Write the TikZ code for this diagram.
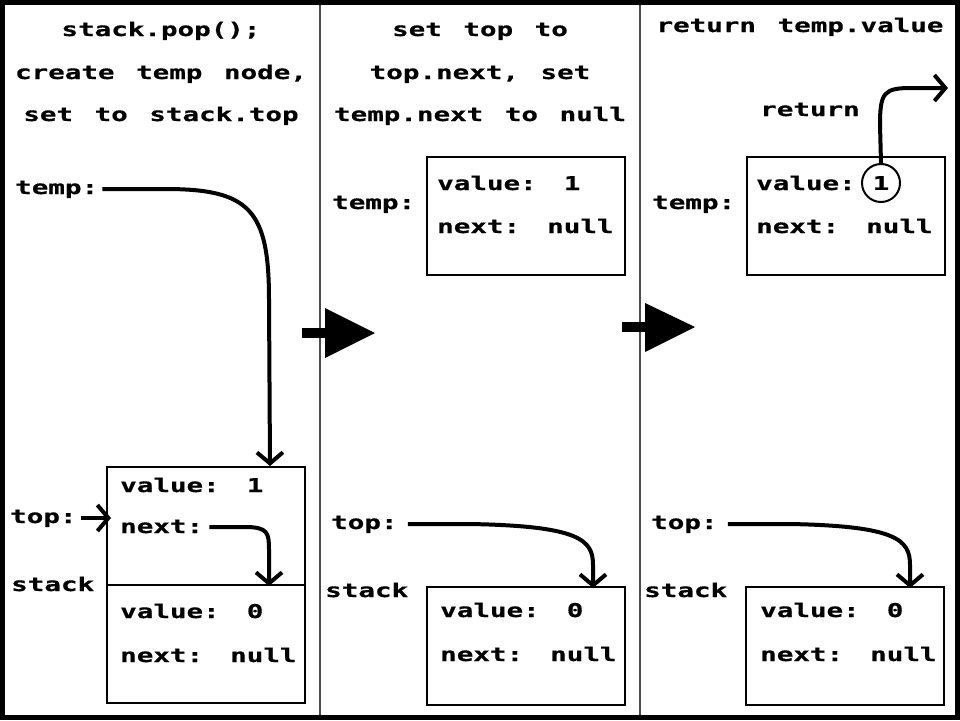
\documentclass[tikz,border=0pt]{standalone}
\usepackage{fontspec}
\usetikzlibrary{arrows.meta}
\newfontfamily\pxfont[FakeStretch=1.45,WordSpace=1.3,FakeBold=0.6]{DejaVu Sans Mono}
\begin{document}
\begin{tikzpicture}[x=1pt,y=-1pt,
  txt/.style={font=\pxfont\bfseries\fontsize{19}{19}\selectfont, inner sep=0pt, anchor=base west},
  ttl/.style={txt, anchor=base},
  cell/.style={draw, line width=2pt, minimum width=198pt, minimum height=118pt, inner sep=0pt, anchor=north west},
  ptr/.style={line width=4pt, -{Straight Barb[length=11pt,width=26pt]}},
  divider/.style={line width=2pt, black!70},
  bigarrow/.style={fill=black}
]
\useasboundingbox (0,0) rectangle (960,720);
\fill[white] (0,0) rectangle (960,720);

% frame and panel dividers
\draw[line width=5pt] (2.5,2.5) rectangle (957.5,717.5);
\draw[divider] (320,5) -- (320,715);
\draw[divider] (640,5) -- (640,715);

% ---------- panel 1 ----------
\node[ttl] (t1a) at (161,36) {stack.pop();};
\node[ttl] (t1b) at (161,79) {create temp node,};
\node[ttl] (t1c) at (161,121) {set to stack.top};

\node[txt] (tmp1) at (15,194) {temp:};
\node[txt] (top1) at (10,523) {top:};
\node[txt] (stk1) at (11,591) {stack};

\node[cell] (n1a) at (106,466) {};
\node[cell] (n1b) at (106,584) {};
\node[txt] (v1a) at (120,492) {value: 1};
\node[txt] (x1a) at (120,533) {next:};
\node[txt] (v1b) at (120,618) {value: 0};
\node[txt] (x1b) at (120,662) {next: null};

\coordinate (e1) at (270,466);
\draw[ptr] (tmp1.east |- 0,189) ++(4,0) -- (165,189)
  .. controls (250,189) and (269,210) .. (269,300) -- (e1);
\coordinate (e2) at (111,518);
\draw[ptr] (top1.east |- 0,518) ++(4,0) -- (e2);
\coordinate (e3) at (269,586);
\draw[ptr] (x1a.east |- 0,527) ++(6,0) -- (245,527)
  .. controls (268,527) and (269,533) .. (269,550) -- (e3);

% step arrow 1 -> 2
\fill[bigarrow] (302,328) rectangle (326,338);
\fill[bigarrow] (325,308) -- (375,333) -- (325,358) -- cycle;

% ---------- panel 2 ----------
\node[ttl] (t2a) at (480,36) {set top to};
\node[ttl] (t2b) at (480,79) {top.next, set};
\node[ttl] (t2c) at (480,121) {temp.next to null};

\node[txt] (tmp2) at (332,209) {temp:};
\node[cell] (n2t) at (426,156) {};
\node[txt] (v2t) at (437,190) {value: 1};
\node[txt] (x2t) at (437,233) {next: null};

\node[txt] (top2) at (331,529) {top:};
\node[txt] (stk2) at (325,597) {stack};
\node[cell] (n2b) at (426,586) {};
\node[txt] (v2b) at (440,617) {value: 0};
\node[txt] (x2b) at (440,661) {next: null};

\coordinate (e4) at (593,588);
\draw[ptr] (top2.east |- 0,524) ++(10,0) -- (470,524)
  .. controls (580,526) and (593,540) .. (593,565) -- (e4);

% step arrow 2 -> 3
\fill[bigarrow] (622,322) rectangle (646,332);
\fill[bigarrow] (645,303) -- (695,327) -- (645,352) -- cycle;

% ---------- panel 3 ----------
\node[ttl] (t3a) at (800,32) {return temp.value};

\node[txt] (tmp3) at (652,209) {temp:};
\node[cell] (n3t) at (746,156) {};
\node[txt] (v3t) at (756,190) {value:};
\node[draw, circle, line width=2pt, minimum size=38pt, inner sep=0pt,
      font=\pxfont\bfseries\fontsize{19}{19}\selectfont] (c3) at (881,183) {1};
\node[txt] (x3t) at (756,233) {next: null};

\node[txt] (ret) at (760,116) {return};
\coordinate (e5) at (948,88);
\draw[ptr] (c3.north) -- (880,125)
  .. controls (880,92) and (884,88) .. (912,88) -- (e5);

\node[txt] (top3) at (651,529) {top:};
\node[txt] (stk3) at (644,597) {stack};
\node[cell] (n3b) at (745,586) {};
\node[txt] (v3b) at (760,617) {value: 0};
\node[txt] (x3b) at (760,661) {next: null};

\coordinate (e6) at (910,588);
\draw[ptr] (top3.east |- 0,524) ++(10,0) -- (790,524)
  .. controls (897,526) and (910,540) .. (910,565) -- (e6);
\end{tikzpicture}
\end{document}
